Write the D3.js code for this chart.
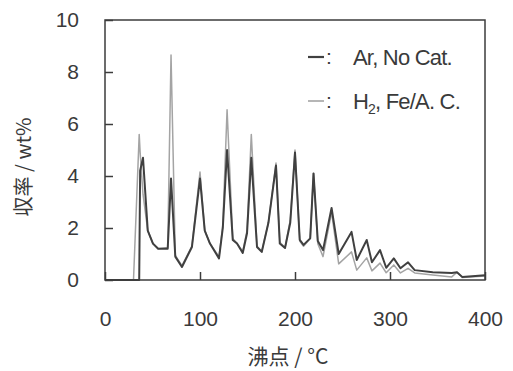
<!DOCTYPE html>
<html>
<head>
<meta charset="utf-8">
<script src="https://cdn.jsdelivr.net/npm/d3@7"></script>
<style>
  body { margin: 0; background: #fff; }
  svg text { font-family: "Liberation Sans", Arial, sans-serif; fill: #3a3a3a; }
  .cjk { font-family: "Noto Sans CJK JP", "Noto Sans CJK SC", sans-serif; }
</style>
</head>
<body>
<svg id="chart" width="513" height="371"></svg>
<script>
// boiling point (°C) grid shared by both runs
const temps = [0, 30, 36, 37, 40, 45, 50.5, 56, 66, 69.5, 74, 81, 91.5, 100, 105, 110.5,
  120, 124, 128.5, 134.5, 139, 145, 149.5, 154, 160, 165, 172, 180, 184, 189.5, 195, 200,
  205, 209, 216, 219.5, 224, 229.5, 238.5, 246, 259.5, 265, 275.5, 281, 289.5, 296, 304,
  311, 319, 326, 345, 365, 370.5, 376, 400];

// yield wt% — Ar, no catalyst
const arNoCat = [0, 0, 0, 4.2, 4.7, 1.9, 1.4, 1.2, 1.2, 3.9, 0.9, 0.5, 1.27, 3.9, 1.9, 1.4,
  0.83, 2.0, 5.0, 1.54, 1.4, 1.04, 1.8, 4.7, 1.27, 1.08, 2.2, 4.4, 1.4, 1.23, 2.2, 4.9,
  1.54, 1.35, 1.6, 4.1, 1.5, 1.15, 2.77, 1.0, 1.85, 0.77, 1.54, 0.68, 1.15, 0.47, 0.83,
  0.45, 0.68, 0.38, 0.3, 0.27, 0.3, 0.12, 0.18];

// yield wt% — H2, Fe/A.C.
const h2FeAC = [0, 0, 5.6, 4.9, 3.3, 1.9, 1.4, 1.2, 1.25, 8.65, 0.95, 0.55, 1.3, 4.15, 1.9, 1.4,
  0.9, 2.1, 6.55, 1.6, 1.4, 1.1, 1.9, 5.6, 1.3, 1.1, 2.2, 4.5, 1.45, 1.25, 2.3, 5.0,
  1.5, 1.3, 1.6, 4.1, 1.4, 0.9, 2.6, 0.62, 1.08, 0.38, 0.85, 0.35, 0.65, 0.28, 0.58,
  0.27, 0.45, 0.27, 0.19, 0.12, 0.3, 0.1, 0.15];

const xTicks = [0, 100, 200, 300, 400];
const yTicks = [0, 2, 4, 6, 8, 10];

const mLeft = 105, mRight = 485, mTop = 20, mBottom = 280;
const svg = d3.select('#chart');

const x = d3.scaleLinear().domain([0, 400]).range([mLeft, mRight]);
const y = d3.scaleLinear().domain([0, 10]).range([mBottom, mTop]);

// lines: light one first, dark on top
const line = vals => d3.line()
  .x((d, i) => x(temps[i]))
  .y((d) => y(d))(vals);

svg.append('path')
  .attr('d', line(h2FeAC))
  .attr('fill', 'none')
  .attr('stroke', '#a4a4a4')
  .attr('stroke-width', 1.5)
  .attr('stroke-linejoin', 'round');

svg.append('path')
  .attr('d', line(arNoCat))
  .attr('fill', 'none')
  .attr('stroke', '#404040')
  .attr('stroke-width', 2)
  .attr('stroke-linejoin', 'round');

// axes with inward ticks
const yAxis = svg.append('g')
  .attr('transform', `translate(${mLeft},0)`)
  .call(d3.axisLeft(y).tickValues(yTicks).tickSize(-8).tickPadding(26));
const xAxis = svg.append('g')
  .attr('transform', `translate(0,${mBottom})`)
  .call(d3.axisBottom(x).tickValues(xTicks).tickSize(-8).tickPadding(31));

[yAxis, xAxis].forEach(g => {
  g.select('.domain').remove();
  g.selectAll('line').attr('stroke', '#3c3c3c').attr('stroke-width', 1.5);
  g.selectAll('text').attr('font-size', 21).attr('font-family', '"Liberation Sans", Arial, sans-serif').attr('fill', '#3a3a3a');
});

// frame
svg.append('rect')
  .attr('x', mLeft).attr('y', mTop)
  .attr('width', mRight - mLeft).attr('height', mBottom - mTop)
  .attr('fill', 'none')
  .attr('stroke', '#3c3c3c')
  .attr('stroke-width', 1.5);

// axis titles
svg.append('text')
  .attr('class', 'cjk')
  .attr('transform', 'translate(31,167) rotate(-90)')
  .attr('text-anchor', 'middle')
  .attr('font-size', 20)
  .text('収率 / wt%');

svg.append('text')
  .attr('class', 'cjk')
  .attr('x', 288).attr('y', 364)
  .attr('text-anchor', 'middle')
  .attr('font-size', 21)
  .text('沸点 / °C');

// legend
const legend = [
  { color: '#404040', w: 2.2, y: 57 },
  { color: '#a4a4a4', w: 1.6, y: 101 }
];
legend.forEach(l => {
  svg.append('line')
    .attr('x1', 308).attr('x2', 324)
    .attr('y1', l.y).attr('y2', l.y)
    .attr('stroke', l.color).attr('stroke-width', l.w);
  svg.append('text')
    .attr('x', 326).attr('y', l.y + 7)
    .attr('font-size', 21)
    .text(':');
});

svg.append('text')
  .attr('x', 353).attr('y', 65)
  .attr('font-size', 22)
  .attr('letter-spacing', -0.8)
  .text('Ar, No Cat.');

const h2 = svg.append('text')
  .attr('x', 353).attr('y', 109)
  .attr('font-size', 22)
  .attr('letter-spacing', -0.8);
h2.append('tspan').text('H');
h2.append('tspan').attr('font-size', 14).attr('dy', 5).text('2');
h2.append('tspan').attr('dy', -5).text(', Fe/A. C.');
</script>
</body>
</html>
